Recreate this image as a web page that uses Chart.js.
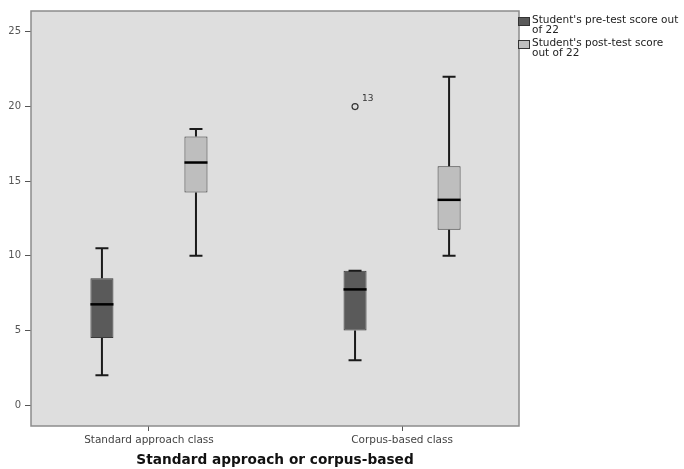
<!DOCTYPE html>
<html>
<head>
<meta charset="utf-8">
<script src="https://cdn.jsdelivr.net/npm/chart.js@4"></script>
<style>
  body { margin: 0; background: #fff; }
  #wrap { position: relative; width: 684px; height: 469px; overflow: hidden; }
  #legend { position: absolute; left: 518px; top: 15px; font: 10.5px "DejaVu Sans", sans-serif; color: #222; line-height: 9.5px; }
  .item { position: relative; padding-left: 14px; margin-bottom: 4px; width: 170px; }
  .swatch { position: absolute; left: 0; top: 2px; width: 12px; height: 9px; border: 1px solid #333; box-sizing: border-box; }
</style>
</head>
<body>
<div id="wrap">
  <canvas id="canvas" width="684" height="469"></canvas>
  <div id="legend"></div>
</div>
<script>
var categories = ['Standard approach class', 'Corpus-based class'];
var seriesNames = ["Student's pre-test score out of 22", "Student's post-test score out of 22"];

// five-number summaries
var preMin = [2, 3];
var preQ1 = [4.5, 5];
var preMedian = [6.75, 7.75];
var preQ3 = [8.5, 9];
var preMax = [10.5, 9];
var preOutliers = [[], [20]];
var preOutlierLabels = [[], ['13']];

var postMin = [10, 10];
var postQ1 = [14.25, 11.75];
var postMedian = [16.25, 13.75];
var postQ3 = [18, 16];
var postMax = [18.5, 22];

var yTicks = [0, 5, 10, 15, 20, 25];

var boxColors = ['#5a5a5a', '#bebebe'];
var stats = [
    { min: preMin, q1: preQ1, med: preMedian, q3: preQ3, max: preMax, out: preOutliers, outLabels: preOutlierLabels },
    { min: postMin, q1: postQ1, med: postMedian, q3: postQ3, max: postMax, out: [[], []], outLabels: [[], []] }
];

// legend as html text
var legendEl = document.getElementById('legend');
seriesNames.forEach(function (name, i) {
    var d = document.createElement('div');
    d.className = 'item';
    d.innerHTML = '<span class="swatch" style="background:' + boxColors[i] + '"></span>' + name.replace(' out of 22', (i == 0 ? ' out<br>of 22' : '<br>out of 22'));
    legendEl.appendChild(d);
});

var boxPlugin = {
    id: 'boxplot',
    beforeDraw: function (chart) {
        var a = chart.chartArea, ctx = chart.ctx;
        ctx.save();
        ctx.fillStyle = '#dedede';
        ctx.fillRect(a.left, a.top, a.right - a.left, a.bottom - a.top);
        ctx.restore();
    },
    afterDatasetsDraw: function (chart) {
        var ctx = chart.ctx, y = chart.scales.y;
        ctx.save();
        stats.forEach(function (s, di) {
            var meta = chart.getDatasetMeta(di);
            meta.data.forEach(function (el, i) {
                var x = el.x, hw = el.width / 2, cap = 6.5;
                ctx.strokeStyle = '#1a1a1a';
                ctx.lineWidth = 2;
                ctx.beginPath();
                // upper whisker
                ctx.moveTo(x, y.getPixelForValue(s.q3[i]));
                ctx.lineTo(x, y.getPixelForValue(s.max[i]));
                ctx.moveTo(x - cap, y.getPixelForValue(s.max[i]));
                ctx.lineTo(x + cap, y.getPixelForValue(s.max[i]));
                // lower whisker
                ctx.moveTo(x, y.getPixelForValue(s.q1[i]));
                ctx.lineTo(x, y.getPixelForValue(s.min[i]));
                ctx.moveTo(x - cap, y.getPixelForValue(s.min[i]));
                ctx.lineTo(x + cap, y.getPixelForValue(s.min[i]));
                ctx.stroke();
                // median
                ctx.lineWidth = 2.5;
                ctx.strokeStyle = '#000';
                ctx.beginPath();
                ctx.moveTo(x - hw, y.getPixelForValue(s.med[i]));
                ctx.lineTo(x + hw, y.getPixelForValue(s.med[i]));
                ctx.stroke();
                // outliers
                s.out[i].forEach(function (v, k) {
                    var py = y.getPixelForValue(v);
                    ctx.lineWidth = 1.2;
                    ctx.strokeStyle = '#333';
                    ctx.beginPath();
                    ctx.arc(x, py, 3, 0, Math.PI * 2);
                    ctx.stroke();
                    ctx.fillStyle = '#333';
                    ctx.font = '9px "DejaVu Sans"';
                    ctx.textBaseline = 'middle';
                    ctx.fillText(s.outLabels[i][k], x + 7, py - 8);
                });
            });
        });
        ctx.restore();
    },
    afterDraw: function (chart) {
        var a = chart.chartArea, ctx = chart.ctx;
        ctx.save();
        ctx.strokeStyle = '#8c8c8c';
        ctx.lineWidth = 1.5;
        ctx.strokeRect(a.left, a.top, a.right - a.left, a.bottom - a.top);
        ctx.restore();
    }
};

var ctx = document.getElementById('canvas').getContext('2d');
window.myBox = new Chart(ctx, {
    type: 'bar',
    data: {
        datasets: stats.map(function (s, di) {
            return {
                label: seriesNames[di],
                data: categories.map(function (c, i) { return { x: i + 1, y: [s.q1[i], s.q3[i]] }; }),
                backgroundColor: boxColors[di],
                borderColor: '#3a3a3a',
                borderWidth: 1,
                borderSkipped: false,
                categoryPercentage: 0.743,
                barPercentage: 0.245
            };
        })
    },
    options: {
        responsive: false,
        animation: false,
        layout: { padding: { top: 11, right: 165, bottom: 0, left: 0 } },
        plugins: {
            legend: { display: false },
            tooltip: { enabled: false }
        },
        scales: {
            x: {
                type: 'linear',
                min: 0.534,
                max: 2.462,
                offset: false,
                grid: { offset: false, drawOnChartArea: false, drawTicks: true, tickLength: 5, color: '#555' },
                border: { display: false },
                ticks: {
                    color: '#444',
                    font: { family: 'DejaVu Sans', size: 10.5 },
                    padding: 3,
                    callback: function (v) { return categories[v - 1]; }
                },
                afterBuildTicks: function (scale) {
                    scale.ticks = categories.map(function (c, i) { return { value: i + 1 }; });
                },
                title: {
                    display: true,
                    text: 'Standard approach or corpus-based',
                    color: '#111',
                    font: { family: 'DejaVu Sans', size: 13.7, weight: 'bold' },
                    padding: { top: 0, bottom: 0 }
                },
                afterFit: function (scale) { scale.height = 43; }
            },
            y: {
                min: -1.4,
                max: 26.4,
                grid: { drawOnChartArea: false, drawTicks: true, tickLength: 6, color: '#555' },
                border: { display: false },
                ticks: { color: '#555', font: { family: 'DejaVu Sans', size: 10 }, padding: 4 },
                afterBuildTicks: function (scale) {
                    scale.ticks = yTicks.map(function (v) { return { value: v }; });
                },
                afterFit: function (scale) { scale.width = 31; }
            }
        }
    },
    plugins: [boxPlugin]
});
</script>
</body>
</html>
